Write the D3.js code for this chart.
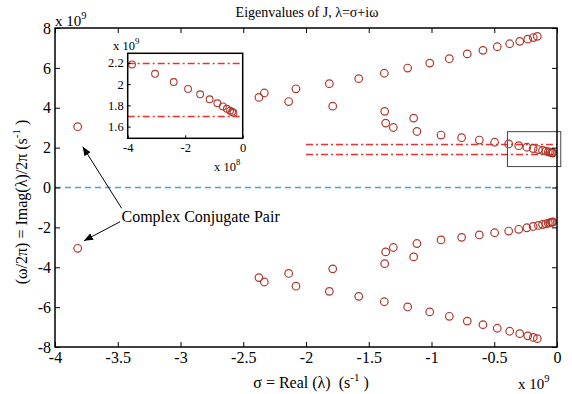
<!DOCTYPE html>
<html>
<head>
<meta charset="utf-8">
<script src="https://cdn.jsdelivr.net/npm/d3@7"></script>
<style>
body { margin: 0; background: #fff; }
svg { display: block; font-family: "Liberation Serif", "Times New Roman", serif; }
svg text { font-family: "Liberation Serif", "Times New Roman", serif; }
.tick line { stroke: #000; }
.tick text { font-size: 16px; fill: #000; }
.inset .tick text { font-size: 12.5px; }
</style>
</head>
<body>
<svg id="chart" width="572" height="394"></svg>
<script>
// eigenvalues, sigma and omega/2pi in units of 1e9 (upper half; lower half is the conjugate)
var pairSigma = [-3.819];
var pairOmega = [3.05];

var outerSigma = [-2.332, -2.08, -1.814, -1.58, -1.376, -1.19, -1.014, -0.858, -0.715, -0.59,
  -0.476, -0.377, -0.297, -0.233, -0.189, -0.157];
var outerOmega = [4.74, 4.95, 5.21, 5.46, 5.73, 5.99, 6.24, 6.46, 6.70, 6.88,
  7.06, 7.21, 7.33, 7.44, 7.52, 7.58];

var innerSigma = [-2.375, -2.138, -1.787, -1.373, -1.365, -1.304, -1.142, -1.116, -0.924, -0.76,
  -0.619, -0.497, -0.385, -0.305, -0.24, -0.19, -0.148, -0.115, -0.088, -0.069,
  -0.055, -0.044, -0.037, -0.032];
var innerOmega = [4.52, 4.31, 4.08, 3.82, 3.23, 3.01, 3.48, 2.81, 2.63, 2.50,
  2.38, 2.27, 2.185, 2.097, 2.02, 1.955, 1.904, 1.857, 1.82, 1.79,
  1.768, 1.75, 1.74, 1.73];

var xTicks = [-4, -3.5, -3, -2.5, -2, -1.5, -1, -0.5, 0];
var yTicks = [-8, -6, -4, -2, 0, 2, 4, 6, 8];
var insetXTicks = [-4, -2, 0];          // x 1e8
var insetYTicks = [1.6, 1.8, 2, 2.2];
var bandLevels = [2.2, 1.7];

var G = {
  red: '#b0392d',
  band: '#f03030',
  svg: d3.select('#chart')
};

// collect all points, including conjugates
var pts = [];
function addBranch(s, w) {
  for (var i = 0; i < s.length; ++i) {
    pts.push({ s: s[i], w: w[i] });
    pts.push({ s: s[i], w: -w[i] });
  }
}
addBranch(pairSigma, pairOmega);
addBranch(outerSigma, outerOmega);
addBranch(innerSigma, innerOmega);

var x = d3.scaleLinear().domain([-4, 0]).range([55, 557]);
var y = d3.scaleLinear().domain([-8, 8]).range([347, 28]);
var svg = G.svg;

function bare(g) {
  g.attr('font-family', null).attr('font-size', null);
  g.select('.domain').remove();
  g.selectAll('text').style('font-family', '"Liberation Serif", "Times New Roman", serif');
}

// zero line
svg.append('line')
  .attr('x1', x(-4)).attr('x2', x(0))
  .attr('y1', y(0)).attr('y2', y(0))
  .style('stroke', '#4da3dc').style('stroke-width', 1.3)
  .style('stroke-dasharray', '6,4');

// band lines (main)
svg.selectAll('.band')
  .data(bandLevels)
  .enter().append('line')
  .attr('x1', x(-2)).attr('x2', x(0))
  .attr('y1', function(d) { return Math.round(y(d)) + 0.5; })
  .attr('y2', function(d) { return Math.round(y(d)) + 0.5; })
  .style('stroke', G.band).style('stroke-width', 1.3)
  .style('stroke-dasharray', '7,3,2,3');

// zoom box
svg.append('rect')
  .attr('x', x(-0.395)).attr('y', y(2.8))
  .attr('width', x(0.03) - x(-0.395))
  .attr('height', y(1.05) - y(2.8))
  .style('fill', 'none').style('stroke', '#444').style('stroke-width', 1);

svg.append('g').selectAll('circle')
  .data(pts)
  .enter().append('circle')
  .attr('cx', function(d) { return x(d.s); })
  .attr('cy', function(d) { return y(d.w); })
  .attr('r', 3.8)
  .style('fill', 'none').style('stroke', G.red).style('stroke-width', 1.2);

// axes, ticks pointing inward
svg.append('g')
  .attr('transform', 'translate(0,' + y(-8) + ')')
  .call(d3.axisBottom(x).tickValues(xTicks).tickSize(-5).tickPadding(5)
    .tickFormat(function(d) { return d; }))
  .call(bare);
svg.append('g')
  .attr('transform', 'translate(0,' + y(8) + ')')
  .call(d3.axisTop(x).tickValues(xTicks).tickSize(-5).tickFormat(''))
  .call(bare);
svg.append('g')
  .attr('transform', 'translate(' + x(-4) + ',0)')
  .call(d3.axisLeft(y).tickValues(yTicks).tickSize(-5).tickPadding(4)
    .tickFormat(function(d) { return d; }))
  .call(bare);
svg.append('g')
  .attr('transform', 'translate(' + x(0) + ',0)')
  .call(d3.axisRight(y).tickValues(yTicks).tickSize(-5).tickFormat(''))
  .call(bare);
svg.selectAll('.tick line').style('stroke-width', 1);

svg.append('rect')
  .attr('x', x(-4)).attr('y', y(8))
  .attr('width', x(0) - x(-4)).attr('height', y(-8) - y(8))
  .style('fill', 'none').style('stroke', '#000').style('stroke-width', 1.5);

// inset
var xi = d3.scaleLinear().domain([-4, 0]).range([127.7, 242.7]);
var yi = d3.scaleLinear().domain([1.49, 2.29]).range([138.3, 53.3]);
var inset = svg.append('g').attr('class', 'inset');
inset.append('rect')
  .attr('x', 127.7).attr('y', 53.3).attr('width', 115).attr('height', 85)
  .style('fill', '#fff');
svg.append('clipPath').attr('id', 'inset-clip')
  .append('rect').attr('x', 127.7).attr('y', 53.3).attr('width', 115).attr('height', 85);
var ic = inset.append('g').attr('clip-path', 'url(#inset-clip)');
ic.selectAll('.iband')
  .data(bandLevels)
  .enter().append('line')
  .attr('x1', xi(-4)).attr('x2', xi(0))
  .attr('y1', function(d) { return Math.round(yi(d)) + 0.5; })
  .attr('y2', function(d) { return Math.round(yi(d)) + 0.5; })
  .style('stroke', G.band).style('stroke-width', 1.3)
  .style('stroke-dasharray', '7,3,2,3');
ic.selectAll('circle')
  .data(pts.filter(function(d) { return d.w > 0 && d.s >= -0.4; }))
  .enter().append('circle')
  .attr('cx', function(d) { return xi(d.s * 10); })
  .attr('cy', function(d) { return yi(d.w); })
  .attr('r', 3.4)
  .style('fill', 'none').style('stroke', G.red).style('stroke-width', 1.1);
inset.append('g')
  .attr('transform', 'translate(0,138.3)')
  .call(d3.axisBottom(xi).tickValues(insetXTicks).tickSize(-3).tickPadding(5)
    .tickFormat(function(d) { return d; }))
  .call(bare);
inset.append('g')
  .attr('transform', 'translate(127.7,0)')
  .call(d3.axisLeft(yi).tickValues(insetYTicks).tickSize(-3).tickPadding(4)
    .tickFormat(function(d) { return d; }))
  .call(bare);
inset.append('rect')
  .attr('x', 127.7).attr('y', 53.3).attr('width', 115).attr('height', 85)
  .style('fill', 'none').style('stroke', '#000').style('stroke-width', 1.5);

// exponent labels
function expLabel(px, py, base, exp, size) {
  var t = svg.append('text').attr('x', px).attr('y', py)
    .style('font-size', size + 'px');
  t.append('tspan').text(base);
  t.append('tspan').attr('dy', -size * 0.45).style('font-size', (size * 0.7) + 'px').text(exp);
}
expLabel(55, 26, 'x 10', '9', 15);
expLabel(518, 389, 'x 10', '9', 15);
expLabel(113, 50, 'x 10', '9', 12.5);
expLabel(214, 171, 'x 10', '8', 12.5);

// title and axis labels
svg.append('text')
  .attr('x', 307).attr('y', 17)
  .attr('text-anchor', 'middle')
  .style('font-size', '14px')
  .text('Eigenvalues of J, λ=σ+iω');

var xl = svg.append('text')
  .attr('x', 311).attr('y', 388)
  .attr('text-anchor', 'middle')
  .style('font-size', '16px')
  .style('white-space', 'pre');
xl.append('tspan').text('σ = Real (λ)  (s');
xl.append('tspan').attr('dy', -7).style('font-size', '11px').text('-1');
xl.append('tspan').attr('dy', 7).text(' )');

var yl = svg.append('text')
  .attr('transform', 'translate(27,202) rotate(-90)')
  .attr('text-anchor', 'middle')
  .style('font-size', '16px')
  .style('white-space', 'pre');
yl.append('tspan').text('(ω/2π) = Imag(λ)/2π (s');
yl.append('tspan').attr('dy', -7).style('font-size', '11px').text('-1');
yl.append('tspan').attr('dy', 7).text(' )');

// annotation
svg.append('defs').append('marker')
  .attr('id', 'ah').attr('viewBox', '0 0 10 10')
  .attr('refX', 10).attr('refY', 5)
  .attr('markerWidth', 9).attr('markerHeight', 9)
  .attr('markerUnits', 'userSpaceOnUse')
  .attr('orient', 'auto')
  .append('path').attr('d', 'M0,1 L10,5 L0,9 Z').style('fill', '#000');
var arrows = [
  { from: [-3.469, -1.04], to: [-3.779, 2.05] },
  { from: [-3.482, -1.72], to: [-3.769, -2.67] }
];
svg.selectAll('.arrow')
  .data(arrows)
  .enter().append('line')
  .attr('x1', function(d) { return x(d.from[0]); })
  .attr('y1', function(d) { return y(d.from[1]); })
  .attr('x2', function(d) { return x(d.to[0]); })
  .attr('y2', function(d) { return y(d.to[1]); })
  .style('stroke', '#000').style('stroke-width', 1)
  .attr('marker-end', 'url(#ah)');
svg.append('text')
  .attr('x', x(-3.47)).attr('y', y(-1.45))
  .attr('dy', '0.35em')
  .style('font-size', '16px')
  .text('Complex Conjugate Pair');
</script>
</body>
</html>
